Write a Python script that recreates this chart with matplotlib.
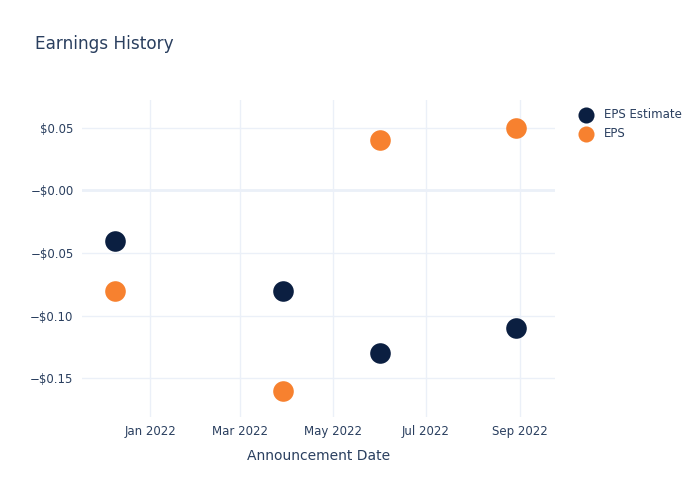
import pandas as pd
import matplotlib
matplotlib.use("Agg")
import matplotlib.pyplot as plt
import matplotlib.dates as mdates

# data
dates = pd.to_datetime(["2021-12-09", "2022-03-29", "2022-06-01", "2022-08-29"])
eps_estimate = [-0.04, -0.08, -0.13, -0.11]
eps_actual = [-0.08, -0.16, 0.04, 0.05]
y_ticks = [0.05, 0.0, -0.05, -0.10, -0.15]
y_tick_labels = ["$0.05", "\u2212$0.00", "\u2212$0.05", "\u2212$0.10", "\u2212$0.15"]

navy = "#0b1f41"
orange = "#f7812f"
text_color = "#2a3f5f"
grid_color = "#ebf0f8"

plt.rcParams['font.family'] = ['DejaVu Sans']

fig = plt.figure(figsize=(7, 5), dpi=100)
ax = fig.add_axes([0.117, 0.166, 0.676, 0.634])

ax.scatter(dates, eps_estimate, s=220, color=navy, label="EPS Estimate", zorder=3, linewidths=0)
ax.scatter(dates, eps_actual, s=220, color=orange, label="EPS", zorder=3, linewidths=0)

ax.set_xlim(pd.Timestamp("2021-11-17"), pd.Timestamp("2022-09-24"))
ax.set_ylim(-0.181, 0.0723)

ax.xaxis.set_major_locator(mdates.MonthLocator(bymonth=[1, 3, 5, 7, 9]))
ax.xaxis.set_major_formatter(mdates.DateFormatter("%b %Y"))
ax.set_yticks(y_ticks)
ax.set_yticklabels(y_tick_labels)

ax.grid(True, color=grid_color, linewidth=1)
ax.axhline(0, color=grid_color, linewidth=2, zorder=1)
ax.set_axisbelow(True)
for spine in ax.spines.values():
    spine.set_visible(False)
ax.tick_params(length=0, colors=text_color, labelsize=8.5, pad=6)

ax.set_xlabel("Announcement Date", color=text_color, fontsize=10, labelpad=8)
fig.text(0.05, 0.912, "Earnings History", color=text_color, fontsize=12.2, va="center")

ax.legend(loc="upper left", bbox_to_anchor=(1.0, 1.035), frameon=False, fontsize=8.5,
          labelcolor=text_color, handletextpad=0.55, borderaxespad=1.2, markerscale=0.78,
          labelspacing=0.55)

fig.savefig("out.png", dpi=100, facecolor="white")
